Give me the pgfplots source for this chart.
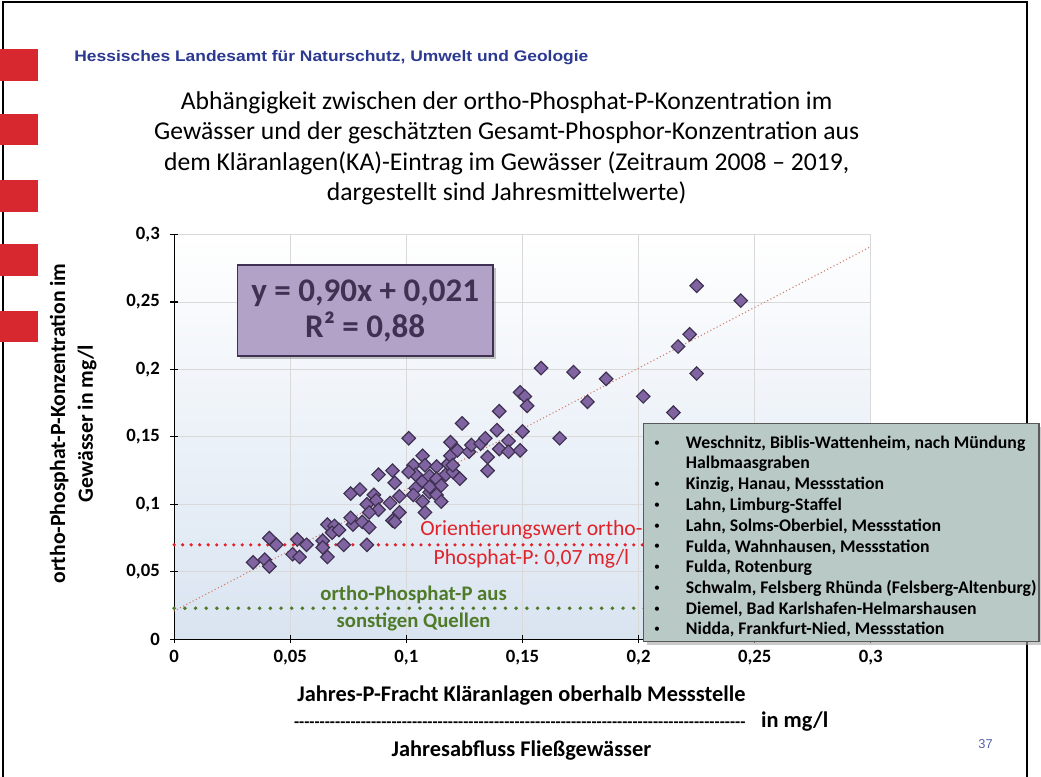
\documentclass[border=0pt]{standalone}
\usepackage{fontspec}
\setmainfont{Carlito}
\newfontfamily\hdrfont{Liberation Sans}
\usepackage{pgfplots}
\pgfplotsset{compat=1.18}
\usetikzlibrary{shadows}
\definecolor{mkfill}{HTML}{8064A2}
\definecolor{mkedge}{HTML}{3F3151}
\definecolor{eqfill}{HTML}{B3A2C7}
\definecolor{lgfill}{HTML}{B9C9C6}
\definecolor{bgblue}{HTML}{D9E4F1}
\definecolor{gridgr}{HTML}{D9D9D9}
\definecolor{refred}{HTML}{E0232A}
\definecolor{refgreen}{HTML}{4F7A28}
\definecolor{trendc}{HTML}{D07A6A}
\definecolor{hdrblue}{HTML}{2B3990}
\definecolor{slidered}{HTML}{D7282F}

% Jahresmittelwerte (x: KA-Eintrag, y: ortho-Phosphat-P), mg/l
\pgfplotstableread{
x y
0.034 0.057
0.039 0.059
0.041 0.054
0.041 0.075
0.044 0.070
0.051 0.063
0.054 0.061
0.053 0.074
0.057 0.070
0.064 0.073
0.064 0.068
0.066 0.061
0.066 0.085
0.069 0.084
0.068 0.079
0.071 0.081
0.073 0.070
0.077 0.085
0.081 0.087
0.084 0.083
0.083 0.070
0.076 0.108
0.080 0.111
0.083 0.100
0.086 0.107
0.087 0.103
0.088 0.096
0.093 0.101
0.094 0.088
0.084 0.094
0.076 0.090
0.088 0.122
0.094 0.125
0.095 0.116
0.097 0.106
0.097 0.094
0.095 0.087
0.101 0.149
0.103 0.129
0.104 0.122
0.104 0.112
0.103 0.107
0.101 0.124
0.107 0.136
0.107 0.117
0.107 0.102
0.108 0.094
0.108 0.129
0.110 0.109
0.110 0.121
0.110 0.113
0.113 0.128
0.113 0.119
0.113 0.107
0.115 0.114
0.115 0.102
0.117 0.122
0.118 0.130
0.119 0.146
0.119 0.136
0.120 0.124
0.120 0.129
0.122 0.140
0.123 0.119
0.124 0.160
0.127 0.139
0.128 0.144
0.132 0.145
0.134 0.149
0.135 0.135
0.135 0.125
0.139 0.155
0.140 0.141
0.140 0.169
0.144 0.147
0.144 0.139
0.149 0.140
0.150 0.154
0.149 0.183
0.151 0.180
0.152 0.173
0.158 0.201
0.166 0.149
0.172 0.198
0.178 0.176
0.186 0.193
0.202 0.180
0.215 0.168
0.217 0.217
0.222 0.226
0.225 0.197
0.225 0.262
0.244 0.251
}\pts

\begin{document}
\begin{tikzpicture}
\begin{scope}[x=1bp,y=-1bp]
\useasboundingbox (0,0) rectangle (1041,785);
\fill[white] (0,0) rectangle (1041,785);
\draw[black, line width=2bp] (3,785) -- (3,2) -- (1038,2) -- (1038,785);
% slide decoration
\foreach \yy in {50,115,182,247,314}
  \fill[slidered] (0,\yy) rectangle (38,\yy+32);
\node[anchor=west, inner sep=0pt, font=\hdrfont\bfseries\fontsize{15.5}{18}\selectfont, text=hdrblue]
  at (75,58) {\scalebox{1.14}[1]{Hessisches Landesamt für Naturschutz, Umwelt und Geologie}};
\node[align=center, font=\fontsize{26}{31}\selectfont] at (512,150)
  {Abhängigkeit zwischen der ortho-Phosphat-P-Konzentration im\\
   Gewässer und der geschätzten Gesamt-Phosphor-Konzentration aus\\
   dem Kläranlagen(KA)-Eintrag im Gewässer (Zeitraum 2008 – 2019,\\
   dargestellt sind Jahresmittelwerte)};
\end{scope}

\begin{axis}[
  at={(176bp,-646bp)}, anchor=south west,
  scale only axis, width=704bp, height=409bp,
  xmin=0, xmax=0.3, ymin=0, ymax=0.3,
  axis lines=left,
  axis line style={-, black, line width=1.3bp},
  xtick={0,0.05,0.1,0.15,0.2,0.25,0.3},
  ytick={0,0.05,0.1,0.15,0.2,0.25,0.3},
  xticklabels={0,{0,05},{0,1},{0,15},{0,2},{0,25},{0,3}},
  yticklabels={0,{0,05},{0,1},{0,15},{0,2},{0,25},{0,3}},
  ticklabel style={font=\bfseries\fontsize{19}{19}\selectfont},
  xticklabel style={yshift=-4bp},
  yticklabel style={xshift=-7bp},
  tick align=center, major tick length=8bp,
  tick style={black, line width=1.2bp},
  grid=major, grid style={gridgr, line width=0.9bp},
  axis background/.style={top color=white, bottom color=bgblue},
  clip=false,
]
\addplot[refred, line width=3.6bp, line cap=round, dash pattern=on 0bp off 8.6bp]
  coordinates {(0,0.07) (0.21,0.07)};
\addplot[refgreen, line width=4bp, line cap=round, dash pattern=on 0bp off 10.8bp]
  coordinates {(0,0.023) (0.21,0.023)};
\addplot[only marks, mark=square*, mark size=4.8bp,
  mark options={rotate=45, fill=mkfill, draw=mkedge, line width=1.2bp}]
  table {\pts};
\addplot[trendc, line width=1.5bp, line cap=round, dash pattern=on 0bp off 3.6bp]
  coordinates {(0,0.021) (0.3,0.291)};
\end{axis}

\begin{scope}[x=1bp,y=-1bp]
% equation box
\node[draw=mkedge, line width=2bp, fill=eqfill, minimum width=258bp, minimum height=92bp,
  drop shadow={opacity=0.45, shadow xshift=3bp, shadow yshift=-3bp},
  align=center, text=mkedge, font=\bfseries\fontsize{33.5}{37}\selectfont]
  at (369,314) {y = 0,90x + 0,021\\R² = 0,88};
% annotation texts
\node[text=refred, align=center, font=\fontsize{22}{30}\selectfont] at (537,550)
  {Orientierungswert ortho-\\Phosphat-P: 0,07 mg/l};
\node[text=refgreen, align=center, font=\bfseries\fontsize{21}{28}\selectfont] at (418,615)
  {ortho-Phosphat-P aus\\sonstigen Quellen};
% station box
\fill[black!35, opacity=0.6] (654,432) rectangle (1052,652);
\draw[fill=lgfill, draw=black!65, line width=1.3bp] (650,428) rectangle (1050,648);
\foreach \yy/\tx in {448/{Weschnitz, Biblis-Wattenheim, nach Mündung},
                     490/{Kinzig, Hanau, Messstation},
                     511/{Lahn, Limburg-Staffel},
                     532/{Lahn, Solms-Oberbiel, Messstation},
                     553/{Fulda, Wahnhausen, Messstation},
                     574/{Fulda, Rotenburg},
                     595/{Schwalm, Felsberg Rhünda (Felsberg-Altenburg)},
                     616/{Diemel, Bad Karlshafen-Helmarshausen},
                     636/{Nidda, Frankfurt-Nied, Messstation}} {
  \node[font=\fontsize{12}{14}\selectfont] at (664,\yy) {•};
  \node[anchor=west, inner sep=0pt, font=\bfseries\fontsize{18}{20}\selectfont] at (693,\yy) {\tx};
}
\node[anchor=west, inner sep=0pt, font=\bfseries\fontsize{18}{20}\selectfont] at (693,469) {Halbmaasgraben};
% axis titles
\node[rotate=90, align=center, font=\bfseries\fontsize{22}{28}\selectfont] at (74,428)
  {ortho-Phosphat-P-Konzentration im\\Gewässer in mg/l};
\node[font=\bfseries\fontsize{22.7}{25}\selectfont] at (527,703)
  {Jahres-P-Fracht Kläranlagen oberhalb Messstelle};
\node[anchor=west, inner sep=0pt, font=\bfseries\fontsize{22.7}{25}\selectfont] at (297,729)
  {\hbox to 460bp{\leaders\hbox{\fontsize{17}{20}\selectfont-}\hfill}\hspace{12bp}in mg/l};
\node[font=\bfseries\fontsize{22.7}{25}\selectfont] at (527,758)
  {Jahresabfluss Fließgewässer};
\node[text=hdrblue!80, font=\hdrfont\fontsize{13}{15}\selectfont] at (996,752) {37};
\end{scope}
\end{tikzpicture}
\end{document}
